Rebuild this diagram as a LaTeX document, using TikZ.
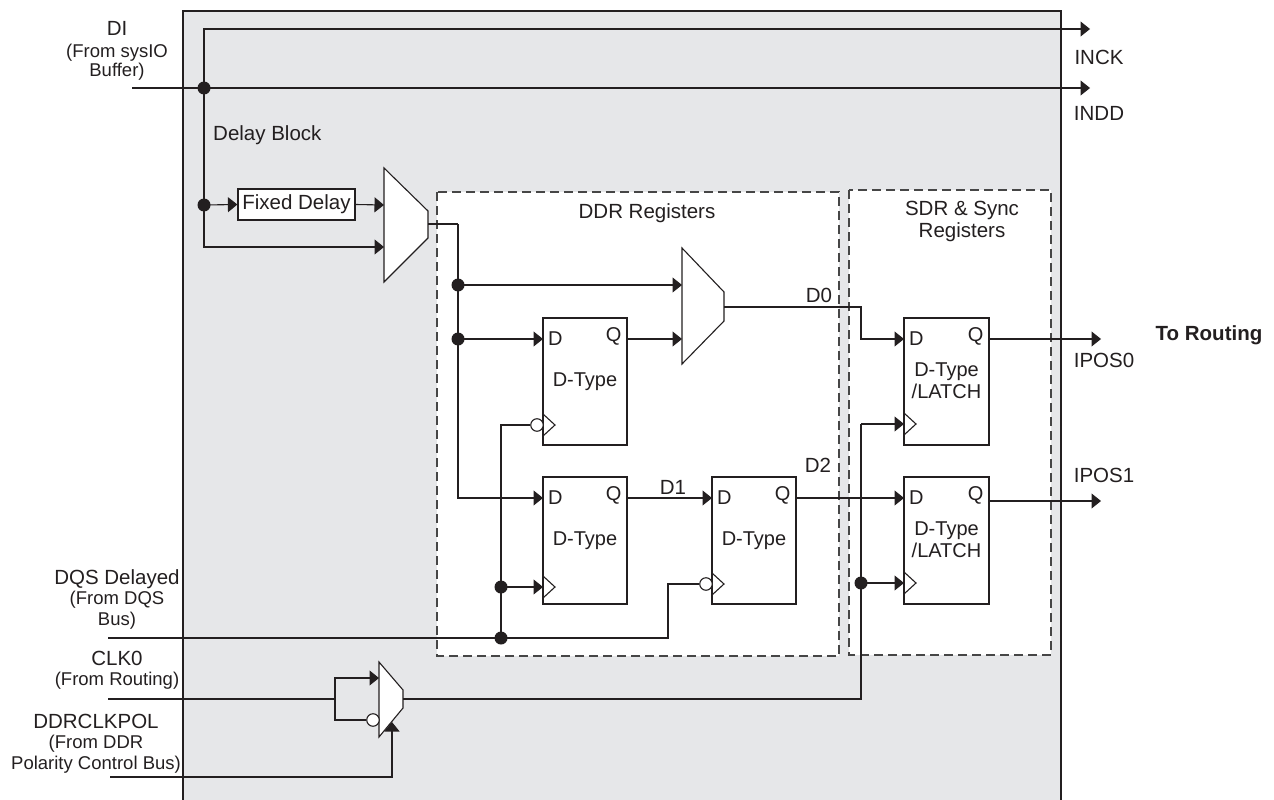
\documentclass[tikz,border=0pt]{standalone}
\usepackage{fontspec}
\setmainfont{Liberation Sans}
\usetikzlibrary{arrows.meta,calc}
\definecolor{panel}{RGB}{230,231,233}
\definecolor{ink}{RGB}{35,31,32}
\definecolor{dashc}{RGB}{70,70,70}
\begin{document}
\begin{tikzpicture}[x=1pt,y=-1pt,
  wire/.style={line width=1.1pt,draw=ink},
  arr/.style={wire,-{Triangle[length=9.5pt,width=15pt]}},
  jdot/.style={circle,fill=ink,inner sep=0pt,minimum size=13pt},
  bubble/.style={circle,draw=ink,fill=white,line width=1.1pt,inner sep=0pt,minimum size=12.5pt},
  ff/.style={draw=ink,line width=1.2pt,fill=white,minimum width=84pt,minimum height=127pt,inner sep=0pt},
  regbox/.style={draw=dashc,line width=1.1pt,dash pattern=on 9pt off 5pt,fill=white},
  muxshape/.style={draw=ink,line width=1.1pt,fill=white},
  clk/.style={draw=ink,line width=1.1pt},
  lbl/.style={font=\fontsize{20.5}{22}\selectfont,inner sep=0pt,text=ink},
  sub/.style={font=\fontsize{18.5}{20.5}\selectfont,inner sep=0pt,align=center,text=ink},
  inlbl/.style={font=\fontsize{20}{22}\selectfont,inner sep=0pt,align=center,text=ink},
]
\useasboundingbox (0,0) rectangle (1274,800);

% panel
\draw[fill=panel,draw=ink,line width=1.2pt] (183,11) rectangle (1061,810);

% register boxes
\draw[regbox] (437,192) rectangle (839,656);
\draw[regbox] (849,190) rectangle (1051,655);
\node[lbl] (tddr) at (647,213) {DDR Registers};
\node[sub,font=\fontsize{20.5}{22}\selectfont] (tsdr) at (962,221) {SDR \& Sync\\Registers};

% left labels
\node[lbl] (lDI) at (117,28) {DI};
\node[sub,font=\fontsize{18.5}{18.5}\selectfont] (lDIs) at (117,62) {(From sysIO\\Buffer)};
\node[sub] (lDQS) at (117,599) {{\fontsize{20.5}{22}\selectfont DQS Delayed}\\(From DQS\\Bus)};
\node[sub] (lCLK) at (117,670.5) {{\fontsize{20.5}{22}\selectfont CLK0}\\(From Routing)};
\node[sub] (lPOL) at (96,743.5) {{\fontsize{20.5}{22}\selectfont DDRCLKPOL}\\(From DDR\\Polarity Control Bus)};
\node[lbl,anchor=west] (ldelay) at (213,135) {Delay Block};

% right labels
\node[lbl] (linck) at (1099,57) {INCK};
\node[lbl] (lindd) at (1099,113) {INDD};
\node[lbl] (lipos0) at (1104,360) {IPOS0};
\node[lbl] (lipos1) at (1104,475) {IPOS1};
\node[lbl,font=\bfseries\fontsize{20.5}{22}\selectfont] (lroute) at (1209,335) {To Routing};

% fixed delay
\node[draw=ink,line width=1.2pt,fill=white,minimum width=117pt,minimum height=31pt,inner sep=0pt,lbl] (fdel) at (296.5,204.5) {Fixed Delay};

% muxes
\draw[muxshape] (384,168) -- (428,211) -- (428,238) -- (384,282) -- cycle;
\coordinate (m1a) at (384,205); \coordinate (m1b) at (384,247); \coordinate (m1o) at (428,224);
\draw[muxshape] (682,248) -- (724,292) -- (724,321) -- (682,364) -- cycle;
\coordinate (m2a) at (682,285); \coordinate (m2b) at (682,339); \coordinate (m2o) at (724,307);
\draw[muxshape] (379,662) -- (403,690) -- (403,708) -- (379,737) -- cycle;
\coordinate (m3a) at (379,678); \coordinate (m3b) at (379,720); \coordinate (m3s) at (392,722); \coordinate (m3o) at (403,699);

% flip-flops
\node[ff] (ffA) at (585,381.5) {};
\node[ff] (ffB) at (585,540.5) {};
\node[ff] (ffC) at (754,540.5) {};
\node[ff,minimum width=85pt] (ffE) at (946.5,381.5) {};
\node[ff,minimum width=85pt] (ffF) at (946.5,540.5) {};
\foreach \f in {ffA,ffB,ffC,ffE,ffF}{
  \node[inlbl,anchor=center] at ($(\f.north west)+(13,21)$) {D};
  \node[inlbl,anchor=center] at ($(\f.north east)+(-14,19)$) {Q};
}
\node[inlbl] at (ffA.center) {D-Type};
\node[inlbl] at (ffB.center) {D-Type};
\node[inlbl] at (ffC.center) {D-Type};
\node[inlbl] at ($(ffE.center)+(0,-1)$) {D-Type\\/LATCH};
\node[inlbl] at ($(ffF.center)+(0,-1)$) {D-Type\\/LATCH};

% clock triangles
\draw[clk] (543,414) -- (555,425) -- (543,436);
\draw[clk] (543,576) -- (555,587) -- (543,598);
\draw[clk] (712,573) -- (724,584) -- (712,595);
\draw[clk] (904,413) -- (916,424) -- (904,435);
\draw[clk] (904,572) -- (916,583) -- (904,594);

% junction coordinates
\coordinate (jDI) at (204,88);
\coordinate (jFD) at (204,205);
\coordinate (inck) at (1090,29);
\coordinate (indd) at (1090,88);
\coordinate (diin) at (132,88);
\coordinate (jM1) at (458,224);
\coordinate (jR1) at (458,285);
\coordinate (jR2) at (458,339);
\coordinate (dB) at (543,498);
\coordinate (dA) at (543,339);
\coordinate (qA) at (627,339);
\coordinate (qB) at (627,498);
\coordinate (dC) at (712,498);
\coordinate (qC) at (796,498);
\coordinate (dF) at (904,498);
\coordinate (dE) at (904,339);
\coordinate (qE) at (989,339);
\coordinate (qF) at (989,501);
\coordinate (ipos0) at (1101,339);
\coordinate (ipos1) at (1101,501);
\coordinate (dqsin) at (108,638);
\coordinate (jQ1) at (501,638);
\coordinate (jQ2) at (501,587);
\coordinate (cA) at (501,425);
\coordinate (cC) at (668,584);
\coordinate (clkin) at (108,699);
\coordinate (jC) at (335,699);
\coordinate (polin) at (110,777);
\coordinate (jS) at (861,583);
\coordinate (cE) at (861,424);
\coordinate (ckE) at (904,424);
\coordinate (ckF) at (904,583);
\coordinate (ckB) at (543,587);

% bubbles
\node[bubble] (bA) at (537,425) {};
\node[bubble] (bC) at (706,584) {};
\node[bubble] (bM) at (373,720) {};

% DI wires
\draw[arr] (jDI) |- (inck);
\draw[arr] (diin) -- (indd);
\draw[arr] (jDI) |- (m1b);
\draw[arr] (jFD) -- (fdel.west);
\draw[arr] (fdel.east) -- (m1a);
\node[jdot] at (jDI) {};
\node[jdot] at (jFD) {};

% DDR data
\draw[wire] (m1o) -- (jM1);
\draw[arr] (jM1) |- (dB);
\draw[arr] (jR1) -- (m2a);
\draw[arr] (jR2) -- (dA);
\draw[arr] (qA) -- (m2b);
\node[jdot] at (jR1) {};
\node[jdot] at (jR2) {};
\draw[arr] (qB) -- (dC);
\node[lbl] at (673,487) {D1};
\draw[arr] (qC) -- (dF);
\node[lbl] at (818,465) {D2};
\draw[arr] (m2o) -| (861,339) -- (dE);
\node[lbl] at (819,295) {D0};
\draw[arr] (qE) -- (ipos0);
\draw[arr] (qF) -- (ipos1);

% DQS clock
\draw[wire] (dqsin) -- (jQ1) -- (cC |- jQ1) -- (cC) -- (bC.west);
\draw[wire] (jQ1) -- (cA) -- (bA.west);
\draw[arr] (jQ2) -- (ckB);
\node[jdot] at (jQ1) {};
\node[jdot] at (jQ2) {};

% CLK0 mux
\draw[wire] (clkin) -- (jC);
\draw[arr] (jC) |- (m3a);
\draw[wire] (jC) |- (bM.west);
\draw[arr] (polin) -| (m3s);
\draw[wire] (m3o) -| (cE);
\draw[arr] (cE) -- (ckE);
\draw[arr] (jS) -- (ckF);
\node[jdot] at (jS) {};
\end{tikzpicture}
\end{document}
